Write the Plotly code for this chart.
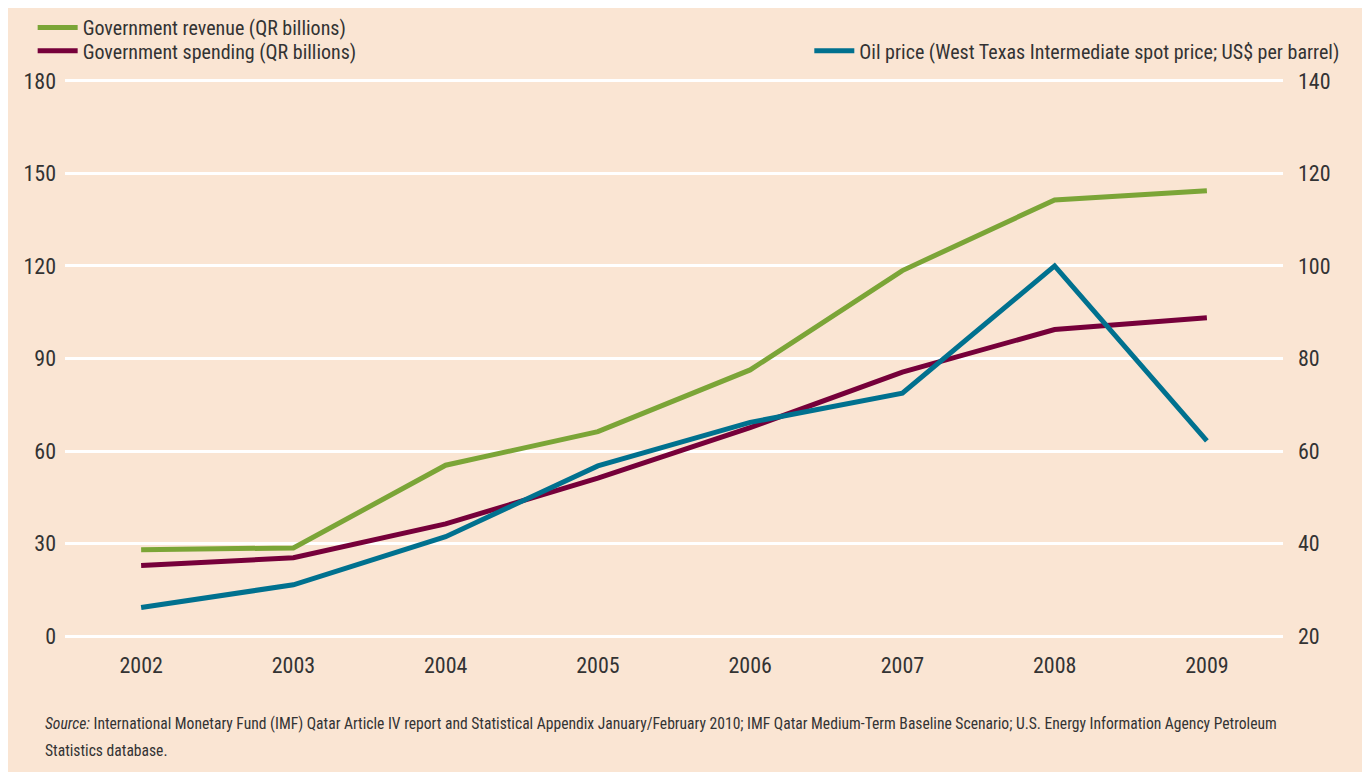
from plotly import graph_objects as go

years = ["2002", "2003", "2004", "2005", "2006", "2007", "2008", "2009"]
revenue = [28.0, 28.6, 55.4, 66.3, 86.3, 118.5, 141.4, 144.4]
spending = [22.9, 25.4, 36.4, 51.2, 67.6, 85.6, 99.4, 103.2]
oil_price = [26.2, 31.1, 41.5, 56.8, 66.2, 72.5, 100.0, 62.2]

left_ticks = [0, 30, 60, 90, 120, 150, 180]
right_ticks = [20, 40, 60, 80, 100, 120, 140]

BG = "#FAE5D3"
TEXT = "#333333"
FONT = "Liberation Sans Narrow, Roboto Condensed, DejaVu Sans Condensed, sans-serif"

fig = go.Figure()
fig.add_trace(go.Scatter(x=years, y=revenue, name="Government revenue (QR billions)",
                         mode="lines", line=dict(color="#7BA537", width=5), legend="legend"))
fig.add_trace(go.Scatter(x=years, y=spending, name="Government spending (QR billions)",
                         mode="lines", line=dict(color="#76003A", width=5), legend="legend3"))
fig.add_trace(go.Scatter(x=years, y=oil_price,
                         name="Oil price (West Texas Intermediate spot price; US$ per barrel)",
                         mode="lines", line=dict(color="#00718F", width=5),
                         yaxis="y2", legend="legend2"))

legend_style = dict(xref="container", yref="container", xanchor="left", yanchor="top",
                    orientation="v", bgcolor="rgba(0,0,0,0)", font=dict(size=20), itemwidth=40)

# page body adds an 8px offset, so margins are shifted to match the reference
fig.update_layout(
    width=1370, height=772,
    margin=dict(l=57, r=95, t=71, b=142, autoexpand=False),
    paper_bgcolor=BG, plot_bgcolor=BG,
    font=dict(family=FONT, size=20, color=TEXT),
    xaxis=dict(type="category", range=[-0.5, 7.5], showgrid=False, zeroline=False,
               ticks="", ticklabelstandoff=12, tickfont=dict(size=22)),
    yaxis=dict(range=[-0.6, 180.6], tickvals=left_ticks, showgrid=True, gridcolor="white",
               gridwidth=2.5, zeroline=False, ticks="", ticklabelstandoff=8,
               tickfont=dict(size=22)),
    yaxis2=dict(range=[19.6, 140.4], tickvals=right_ticks, overlaying="y", side="right",
                showgrid=False, zeroline=False, ticks="", ticklabelstandoff=14,
                tickfont=dict(size=22)),
    legend=dict(legend_style, x=0.018, y=1.0),
    legend3=dict(legend_style, x=0.018, y=0.9698),
    legend2=dict(legend_style, x=0.5849, y=0.9698),
    showlegend=True,
)

fig.add_annotation(text="<i>Source:</i> International Monetary Fund (IMF) Qatar Article IV report and "
                        "Statistical Appendix January/February 2010; IMF Qatar Medium-Term Baseline "
                        "Scenario; U.S. Energy Information Agency Petroleum",
                   xref="paper", yref="paper", x=-0.018, y=-0.1536, xanchor="left", yanchor="middle",
                   showarrow=False, font=dict(size=15.6, color=TEXT))
fig.add_annotation(text="Statistics database.",
                   xref="paper", yref="paper", x=-0.018, y=-0.2016, xanchor="left", yanchor="middle",
                   showarrow=False, font=dict(size=15.6, color=TEXT))

fig.write_html("out.html")
